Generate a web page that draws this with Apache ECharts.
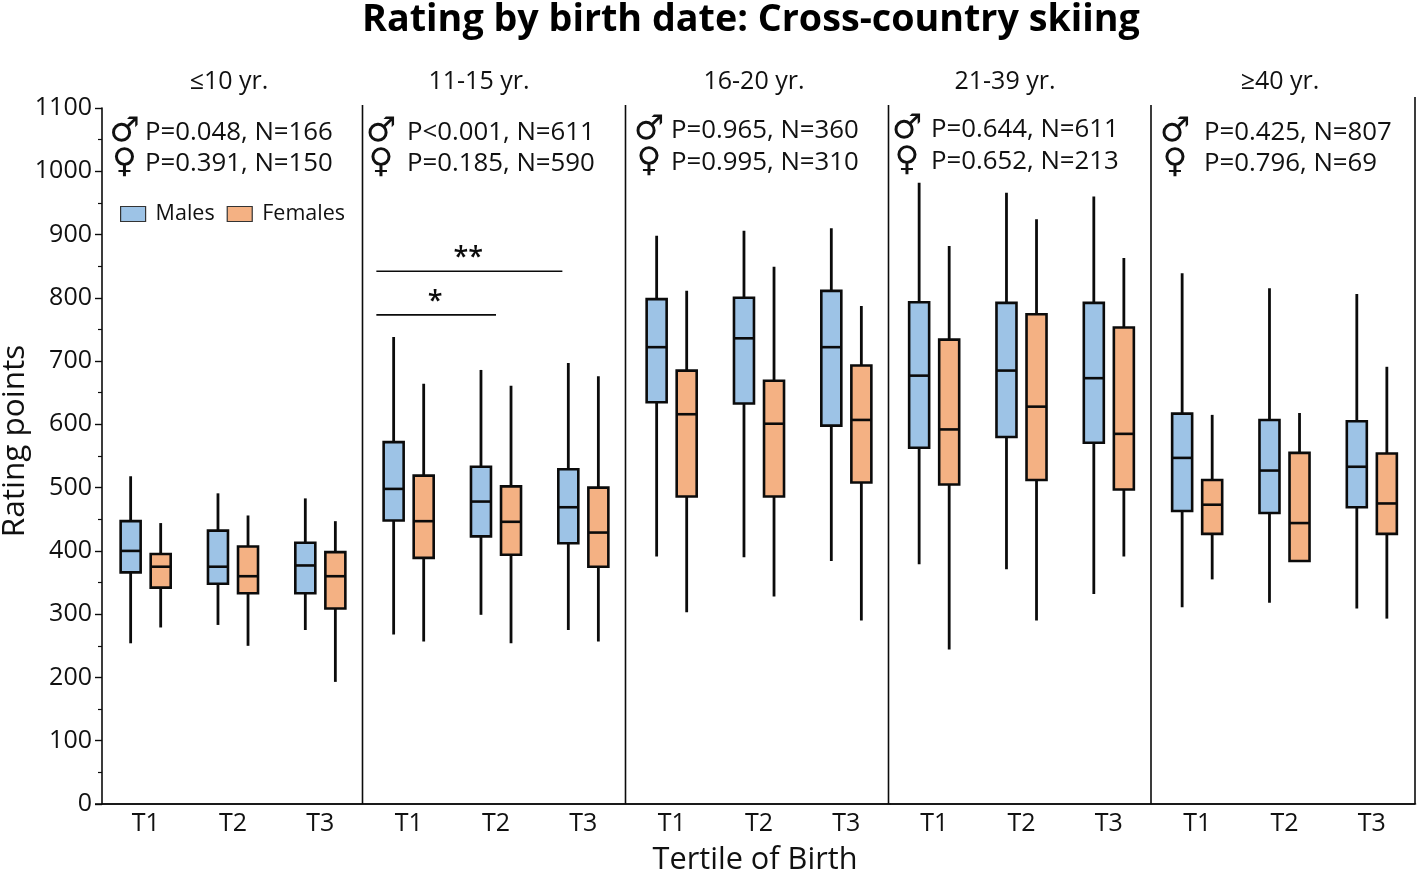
<!DOCTYPE html>
<html><head><meta charset="utf-8">
<style>html,body{margin:0;padding:0;background:#fff}#c{width:1418px;height:872px}</style>
<script src="https://cdn.jsdelivr.net/npm/echarts@6/dist/echarts.min.js"></script>
</head><body><div id="c"></div>
<script>
const FONT = '"Open Sans","Noto Sans",sans-serif';
const tertiles = ['T1','T2','T3'];
const ageGroups = ['≤10 yr.','11-15 yr.','16-20 yr.','21-39 yr.','≥40 yr.'];
const yTicksMax = 1100;
// each row: [low, q1, median, q3, high]
const males1 = [[254,366,400,447,518],[283,348,375,432,491],[275,333,377,413,483]];
const females1 = [[279,342,375,395,444],[250,333,360,407,456],[193,309,360,398,447]];
const males2 = [[268,448,498,572,738],[299,423,478,533,686],[275,412,469,529,697]];
const females2 = [[257,389,447,519,664],[254,394,446,502,661],[257,375,429,500,676]];
const males3 = [[391,635,722,798,898],[390,633,736,800,906],[384,598,722,811,910]];
const females3 = [[303,486,616,685,811],[328,486,601,669,849],[290,508,607,693,787]];
const males4 = [[379,563,677,793,982],[371,580,685,792,966],[332,571,673,792,960]];
const females4 = [[244,505,592,734,882],[290,512,628,774,924],[391,497,585,753,863]];
const males5 = [[311,463,547,617,839],[318,460,527,607,815],[309,469,533,605,806]];
const females5 = [[355,427,473,512,615],[384,384,444,555,618],[293,427,475,554,691]];
const malesAll = [males1,males2,males3,males4,males5];
const femalesAll = [females1,females2,females3,females4,females5];
const maleStats = ['P=0.048, N=166','P<0.001, N=611','P=0.965, N=360','P=0.644, N=611','P=0.425, N=807'];
const femaleStats = ['P=0.391, N=150','P=0.185, N=590','P=0.995, N=310','P=0.652, N=213','P=0.796, N=69'];
// significance brackets in the 11-15 yr. panel: [from, to, rating, stars], from/to in category widths from T1
const brackets = [[-0.37,1.76,842,'**'],[-0.37,1.0,773,'*']];

// layout
const gridLeft = [102,365,628,890.5,1153.5], gridW = 262, gridTop = 108, gridBottom = 68;
const sepX = [362.5,625.5,888.5,1151,1415];
const titleX = [224,474,749,1000,1275];
const symX = [124.5,381,649,907,1175];
const textX = [145,407,671,931,1204];
const row1Y = [133,133,131,130,133], row2Y = [164,164,163,162,164];
const BLUE='#9DC3E6', ORANGE='#F4B183', INK='#0b0b0b';

function boxRender(dir){
  return function(params, api){
    const band = api.size([1,0])[0];
    const i = api.value(0);
    const cx = api.coord([i,0])[0] + dir*band*0.172;
    const y = k => api.coord([i,api.value(k)])[1];
    const hw = 10;
    return {type:'group',children:[
      {type:'line',shape:{x1:cx,y1:y(1),x2:cx,y2:y(5)},style:{stroke:INK,lineWidth:2.8}},
      {type:'rect',shape:{x:cx-hw,y:y(4),width:2*hw,height:y(2)-y(4)},style:{fill:dir<0?BLUE:ORANGE,stroke:INK,lineWidth:2.6}},
      {type:'line',shape:{x1:cx-hw,y1:y(3),x2:cx+hw,y2:y(3)},style:{stroke:INK,lineWidth:2.6}}
    ]};
  };
}
function bracketRender(params, api){
  const band = api.size([1,0])[0];
  const c = api.coord([0,api.value(2)]);
  const a = c[0]+api.value(0)*band, b = c[0]+api.value(1)*band;
  return {type:'group',children:[
    {type:'line',shape:{x1:a,y1:c[1],x2:b,y2:c[1]},style:{stroke:INK,lineWidth:1.6}},
    {type:'text',x:(a+b)/2-1,y:c[1]-12.5,style:{text:brackets[params.dataIndex][3],font:'600 27px '+FONT,fill:INK,textAlign:'center',textVerticalAlign:'middle'}}
  ]};
}

const grid=[],xAxis=[],yAxis=[],series=[],graphic=[],title=[];
title.push({text:'Rating by birth date: Cross-country skiing',left:746,top:-4,textAlign:'center',
  textStyle:{fontFamily:FONT,fontWeight:'bold',fontSize:37.7,color:'#000'}});
ageGroups.forEach((g,p)=>{
  grid.push({left:gridLeft[p],width:gridW,top:gridTop,bottom:gridBottom,outerBoundsMode:'none',containLabel:false});
  xAxis.push({type:'category',gridIndex:p,data:tertiles,
    name:p===2?'Tertile of Birth':'',nameLocation:'middle',nameGap:41,
    nameTextStyle:{fontFamily:FONT,fontSize:30.7,color:'#111',padding:[0,8,0,0]},
    axisLine:{show:true,lineStyle:{color:INK,width:1.6}},axisTick:{show:false},
    axisLabel:{fontFamily:FONT,fontSize:25,color:'#111',margin:7,interval:0}});
  yAxis.push(p===0?{type:'value',gridIndex:0,min:0,max:yTicksMax,interval:100,
    name:'Rating points',nameLocation:'middle',nameGap:62,nameRotate:90,
    nameTextStyle:{fontFamily:FONT,fontSize:31.5,color:'#111',padding:[0,0,0,30]},
    axisLine:{show:true,lineStyle:{color:INK,width:1.6}},
    axisTick:{show:true,length:7,lineStyle:{color:INK,width:1.4}},
    minorTick:{show:true,splitNumber:2,length:4,lineStyle:{color:INK,width:1.2}},
    splitLine:{show:false},minorSplitLine:{show:false},
    axisLabel:{fontFamily:FONT,fontSize:25,color:'#111',margin:10,formatter:v=>String(v)}}
   :{type:'value',gridIndex:p,min:0,max:yTicksMax,interval:100,show:false,splitLine:{show:false}});
  [['Males',malesAll[p],-1],['Females',femalesAll[p],1]].forEach(([name,rows,dir])=>{
    series.push({type:'custom',name,xAxisIndex:p,yAxisIndex:p,clip:false,
      itemStyle:{color:dir<0?BLUE:ORANGE},
      encode:{x:0,y:[1,2,3,4,5]},
      data:rows.map((r,i)=>[tertiles[i],...r]),
      renderItem:boxRender(dir)});
  });
  title.push({text:g,left:titleX[p],top:64,textAlign:'center',
    textStyle:{fontFamily:FONT,fontWeight:'normal',fontSize:25,color:'#111'}});
  graphic.push({type:'line',shape:{x1:sepX[p],y1:p===4?97:105,x2:sepX[p],y2:804},style:{stroke:INK,lineWidth:1.6},silent:true});
  const txt=(t,x,y,font,align)=>graphic.push({type:'text',x,y,style:{text:t,font,fill:'#111',textAlign:align,textVerticalAlign:'middle'},silent:true});
  txt('♂',symX[p],row1Y[p]-1,'34px "DejaVu Sans"','center');
  txt('♀',symX[p],row2Y[p]-1,'34px "DejaVu Sans"','center');
  txt(maleStats[p],textX[p],row1Y[p],'25.8px '+FONT,'left');
  txt(femaleStats[p],textX[p],row2Y[p],'25.8px '+FONT,'left');
});
series.push({type:'custom',name:'Significance',xAxisIndex:1,yAxisIndex:1,clip:false,
  encode:{x:3,y:2},data:brackets.map(b=>[b[0],b[1],b[2],'T1']),renderItem:bracketRender});
graphic.push({type:'line',shape:{x1:95,y1:804,x2:1415,y2:804},style:{stroke:INK,lineWidth:1.6},silent:true});

const chart = echarts.init(document.getElementById('c'),null,{renderer:'canvas'});
chart.setOption({animation:false,backgroundColor:'#fff',title,grid,xAxis,yAxis,series,graphic,
  legend:{data:[{name:'Males',itemStyle:{color:BLUE,borderColor:'#333',borderWidth:1.2}},
                {name:'Females',itemStyle:{color:ORANGE,borderColor:'#333',borderWidth:1.2}}],
    left:115,top:198,icon:'rect',itemWidth:25,itemHeight:15,itemGap:12,selectedMode:false,
    textStyle:{fontFamily:FONT,fontSize:21.5,color:'#111',padding:[0,0,0,5]}}});
</script></body></html>
